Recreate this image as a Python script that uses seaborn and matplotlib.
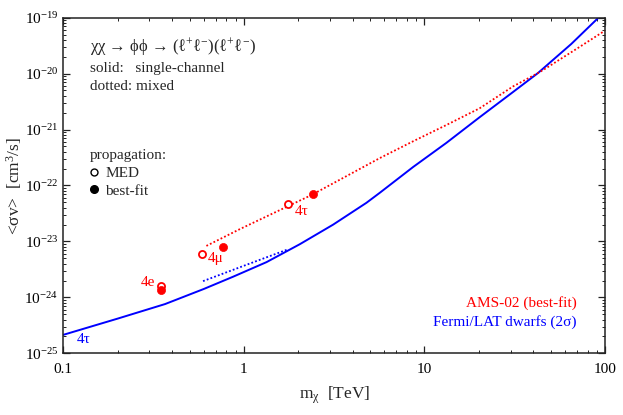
import numpy as np
import pandas as pd
import matplotlib
matplotlib.use("Agg")
import matplotlib.pyplot as plt
from matplotlib.lines import Line2D
from matplotlib.ticker import LogLocator, FixedLocator, FixedFormatter, NullFormatter
import seaborn as sns

# ---- data ----
fermi_single_m = [0.1, 0.2, 0.366, 0.6, 0.873, 1.335, 2.04, 3.12, 4.77, 5.66, 8.65, 13.2,
                  20.2, 30.9, 42.5, 65.0, 93.3, 100.0]
fermi_single_logsv = [-24.67, -24.38, -24.12, -23.85, -23.63, -23.37, -23.05, -22.70,
                      -22.31, -22.13, -21.67, -21.24, -20.78, -20.33, -19.99, -19.47,
                      -18.98, -18.90]
fermi_mixed_m = [0.594, 1.01, 1.76]
fermi_mixed_logsv = [-23.71, -23.43, -23.14]
ams_mixed_m = [0.62, 0.95, 2.37, 5.66, 8.65, 13.2, 20.2, 30.9, 42.5, 47.3, 72.5, 100.0]
ams_mixed_logsv = [-23.08, -22.78, -22.17, -21.51, -21.21, -20.92, -20.62, -20.23,
                   -19.99, -19.90, -19.52, -19.23]
channels = ["4e", "4μ", "4τ"]
med_m = [0.347, 0.586, 1.745]
med_sv = [1.6e-24, 6.0e-24, 4.6e-23]
best_m = [0.347, 0.762, 2.42]
best_sv = [1.33e-24, 7.9e-24, 6.9e-23]
xtick_vals = [0.1, 1, 10, 100]
xtick_labels = ["0.1", "1", "10", "100"]
ytick_exps = [-25, -24, -23, -22, -21, -20, -19]

RED = "#ff0000"
BLUE = "#0000ff"

sns.set_theme(style="ticks")
plt.rcParams["font.family"] = ["Liberation Serif", "DejaVu Serif"]
plt.rcParams["mathtext.fontset"] = "custom"
plt.rcParams["mathtext.rm"] = "Liberation Serif"
plt.rcParams["mathtext.it"] = "Liberation Serif:italic"
plt.rcParams["mathtext.bf"] = "Liberation Serif:bold"

fig = plt.figure(figsize=(6.23, 4.15), dpi=100)
ax = fig.add_axes([0.1016, 0.1487, 0.8696, 0.8087])

df_fs = pd.DataFrame({"m": fermi_single_m, "sv": 10.0 ** np.array(fermi_single_logsv)})
df_fm = pd.DataFrame({"m": fermi_mixed_m, "sv": 10.0 ** np.array(fermi_mixed_logsv)})
df_am = pd.DataFrame({"m": ams_mixed_m, "sv": 10.0 ** np.array(ams_mixed_logsv)})

sns.lineplot(data=df_fs, x="m", y="sv", ax=ax, color=BLUE, lw=1.4, sort=False)
sns.lineplot(data=df_fm, x="m", y="sv", ax=ax, color=BLUE, lw=1.3, sort=False,
             linestyle=(0, (1, 1.2)))
sns.lineplot(data=df_am, x="m", y="sv", ax=ax, color=RED, lw=1.3, sort=False,
             linestyle=(0, (1, 1.2)))

df_med = pd.DataFrame({"m": med_m, "sv": med_sv})
df_best = pd.DataFrame({"m": best_m, "sv": best_sv})
sns.scatterplot(data=df_med, x="m", y="sv", ax=ax, marker="o", s=26,
                facecolor="white", edgecolor=RED, linewidth=1.3, zorder=5)
sns.scatterplot(data=df_best, x="m", y="sv", ax=ax, marker="o", s=34,
                color=RED, edgecolor=RED, linewidth=0.5, zorder=5)

ax.set_xscale("log")
ax.set_yscale("log")
ax.set_xlim(0.1, 100)
ax.set_ylim(1e-25, 1e-19)

ax.xaxis.set_major_locator(FixedLocator(xtick_vals))
ax.xaxis.set_major_formatter(FixedFormatter(xtick_labels))
ax.xaxis.set_minor_locator(LogLocator(base=10, subs=np.arange(2, 10), numticks=20))
ax.xaxis.set_minor_formatter(NullFormatter())
ax.yaxis.set_major_locator(FixedLocator([10.0 ** e for e in ytick_exps]))
ax.yaxis.set_major_formatter(FixedFormatter(["10$^{%d}$" % e for e in ytick_exps]))
ax.yaxis.set_minor_locator(LogLocator(base=10, subs=np.arange(2, 10), numticks=20))
ax.yaxis.set_minor_formatter(NullFormatter())

ax.tick_params(which="both", direction="in", top=True, right=True, colors="#222222",
               labelcolor="black", labelsize=11)
ax.tick_params(which="major", length=5, width=0.9)
ax.tick_params(which="minor", length=2.5, width=0.7)
ax.tick_params(axis="x", pad=7)
for sp in ax.spines.values():
    sp.set_color("#222222")
    sp.set_linewidth(1.1)

ax.set_xlabel("m$_{\\rm χ}$  [TeV]", fontsize=12.5, labelpad=6)
ax.set_ylabel("<σv>  [cm$^{3}$/s]", fontsize=12.5, labelpad=0)

# annotations
tr = ax.transAxes
ax.text(0.049, 0.913, "χχ → ϕϕ → (ℓ$^{+}$ℓ$^{-}$)(ℓ$^{+}$ℓ$^{-}$)", transform=tr,
        fontsize=12, va="center", ha="left")
ax.text(0.049, 0.850, "solid:   single-channel", transform=tr, fontsize=11, va="center")
ax.text(0.049, 0.796, "dotted: mixed", transform=tr, fontsize=11, va="center")

handles = [Line2D([], [], ls="none", marker="o", ms=5, mfc="white", mec="black", mew=1.0),
           Line2D([], [], ls="none", marker="o", ms=5.5, mfc="black", mec="black")]
leg = ax.legend(handles, ["MED", "best-fit"], title="propagation:", loc="upper left",
                bbox_to_anchor=(0.035, 0.63), frameon=False, fontsize=11,
                title_fontsize=11, handlelength=0.6, handletextpad=0.4,
                labelspacing=0.25, borderpad=0.0, alignment="left")

ax.text(0.948, 0.150, "AMS-02 (best-fit)", transform=tr, fontsize=11, color=RED,
        ha="right", va="center")
ax.text(0.948, 0.093, "Fermi/LAT dwarfs (2σ)", transform=tr, fontsize=11, color=BLUE,
        ha="right", va="center")

# channel labels (data coordinates near their points)
ax.text(0.322, 1.86e-24, channels[0], color=RED, fontsize=11, ha="right", va="center")
ax.text(0.63, 4.9e-24, channels[1], color=RED, fontsize=11, ha="left", va="center")
ax.text(1.92, 3.44e-23, channels[2], color=RED, fontsize=11, ha="left", va="center")
ax.text(0.1186, 1.76e-25, channels[2], color=BLUE, fontsize=11, ha="left", va="center")

fig.savefig("out.png", dpi=100)
